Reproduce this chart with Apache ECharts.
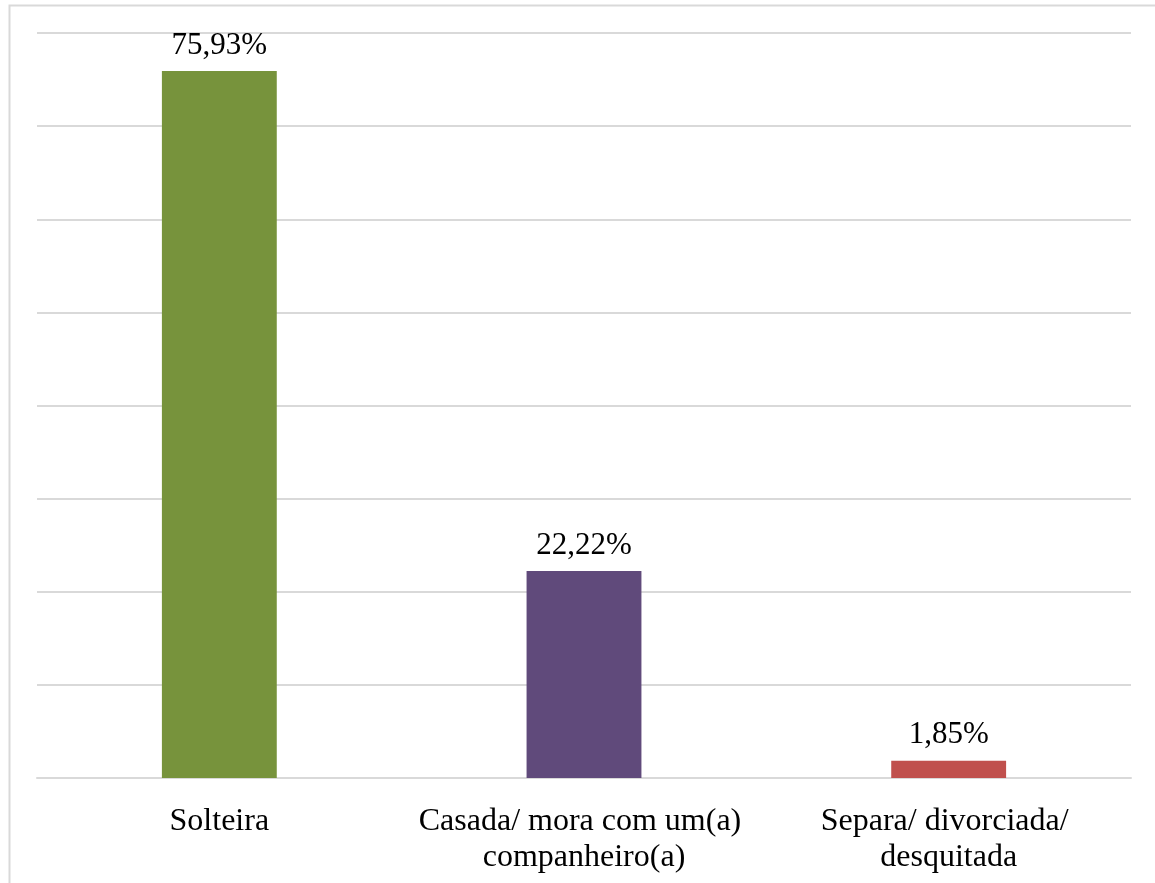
<!DOCTYPE html>
<html>
<head>
<meta charset="utf-8">
<script src="https://cdn.jsdelivr.net/npm/echarts@6/dist/echarts.min.js"></script>
<style>html,body{margin:0;padding:0;background:#fff;}#c{width:1155px;height:883px;}</style>
</head>
<body>
<div id="c"></div>
<script>
var categories = ["Solteira", "Casada/ mora com um(a) companheiro(a)", "Separa/ divorciada/ desquitada"];
var values = [75.93, 22.22, 1.85];
var colors = ["#77933C", "#604A7B", "#C0504D"];
var yTicks = { min: 0, max: 80, interval: 10 };

var chart = echarts.init(document.getElementById('c'), null, { renderer: 'canvas' });
var font = '"Liberation Serif", "Times New Roman", serif';
chart.setOption({
  animation: false,
  backgroundColor: '#fff',
  graphic: [{
    type: 'rect', left: 7, top: 3, z: 100,
    shape: { width: 1170, height: 900 },
    style: { fill: 'none', stroke: '#D9D9D9', lineWidth: 2 }
  }],
  grid: { left: 37, right: 24, top: 33, bottom: 105, containLabel: false },
  xAxis: {
    type: 'category',
    data: categories,
    axisLine: { lineStyle: { color: '#D9D9D9', width: 2 } },
    axisTick: { show: false },
    axisLabel: {
      color: '#000', fontFamily: font, fontSize: 32, lineHeight: 36,
      margin: 26, width: 340, overflow: 'break', interval: 0
    }
  },
  yAxis: {
    type: 'value', min: yTicks.min, max: yTicks.max, interval: yTicks.interval,
    axisLabel: { show: false }, axisLine: { show: false }, axisTick: { show: false },
    splitLine: { lineStyle: { color: '#D9D9D9', width: 2 } }
  },
  series: [{
    type: 'bar',
    barWidth: '31.5%',
    data: values.map(function (v, i) { return { value: v, itemStyle: { color: colors[i] } }; }),
    label: {
      show: true, position: 'top', distance: 10,
      color: '#000', fontFamily: font, fontSize: 31,
      formatter: function (p) { return p.value.toFixed(2).replace('.', ',') + '%'; }
    }
  }]
});
</script>
</body>
</html>
